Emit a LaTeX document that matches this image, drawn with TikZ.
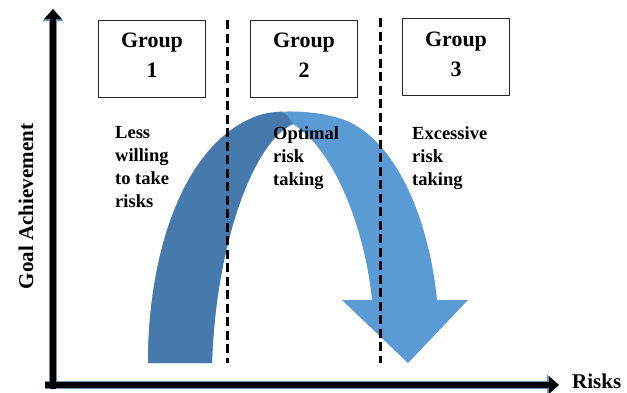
\documentclass[tikz,border=0pt]{standalone}
\usepackage{fontspec}
\setmainfont{Liberation Serif}
\usetikzlibrary{arrows.meta, positioning}
\definecolor{darkarc}{RGB}{70,122,172}
\definecolor{lightarc}{RGB}{91,155,213}
\definecolor{axisrim}{RGB}{105,145,190}

\begin{document}
\begin{tikzpicture}[x=1pt, y=-1pt,
        group/.style={rectangle, draw=black!85, line width=1pt, minimum width=107pt, minimum height=77pt,
          align=center, inner sep=0pt, text depth=6pt, font=\bfseries\fontsize{22}{30}\selectfont},
        note/.style={anchor=north west, align=left, inner sep=0pt, font=\bfseries\fontsize{18.5}{23}\selectfont},
        axisglow/.style={draw=axisrim, line width=7.5pt, -{Triangle[width=20pt,length=12pt]}},
        axisline/.style={draw=black, line width=5.5pt, -{Triangle[width=17pt,length=10pt]}},
        divider/.style={draw=black, line width=3pt, dash pattern=on 9pt off 4.5pt},
        node distance=44pt
      ]
      \useasboundingbox (0,0) rectangle (627,392);

      \fill[lightarc] (148,363) .. controls (148,250) and (185,140) .. (260,115)
        .. controls (275,110) and (310,110) .. (335,117)
        .. controls (390,130) and (428,210) .. (437,300)
        -- (468,300) -- (408,363) -- (342,300) -- (372,300)
        .. controls (365,230) and (335,150) .. (293,124)
        .. controls (255,140) and (216,240) .. (212,363) -- cycle;
      \fill[darkarc] (148,363) .. controls (148,250) and (185,140) .. (260,115)
        .. controls (267,113) and (274,112) .. (281,111.7)
        .. controls (287,114) and (290,119) .. (293,124)
        .. controls (255,140) and (216,240) .. (212,363) -- cycle;

      \coordinate (cut1top) at (227,20);
      \coordinate (cut1bot) at (227,363);
      \coordinate (cut2top) at (380,18);
      \coordinate (cut2bot) at (380,363);
      \draw[divider] (cut1top) -- (cut1bot);
      \draw[divider] (cut2top) -- (cut2bot);

      \coordinate (origin) at (53,389);
      \coordinate (ytip) at (53,9);
      \coordinate (xstart) at (45,385);
      \coordinate (xtip) at (559,385);
      \draw[axisglow] (origin) -- (ytip);
      \draw[axisglow] (xstart) -- (xtip);
      \draw[axisline] (origin) -- (ytip);
      \draw[axisline] (xstart) -- (xtip);

      \node[group] (g1) at (152,58.5) {Group\\1};
      \node[group, right=of g1] (g2) {Group\\2};
      \node[group, right=of g2, yshift=1.5pt] (g3) {Group\\3};

      \node[note] (less) at (115,126.5) {Less\\willing\\to take\\risks};
      \node[note] (optimal) at (273,126.5) {Optimal\\risk\\taking};
      \node[note] (excess) at (412,126.5) {Excessive\\risk\\taking};

      \node[anchor=base west, inner sep=0pt, font=\bfseries\fontsize{21}{25}\selectfont] (risks) at (572,388) {Risks};
      \node[anchor=base, rotate=90, inner sep=0pt, font=\bfseries\fontsize{21}{25}\selectfont] (goal) at (33,206.5) {Goal Achievement};
    \end{tikzpicture}
\end{document}
